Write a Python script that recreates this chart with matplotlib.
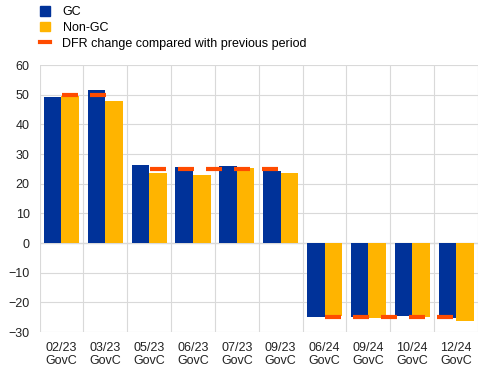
import matplotlib
matplotlib.use("Agg")
import matplotlib.pyplot as plt
from matplotlib.patches import Patch
from matplotlib.lines import Line2D
import numpy as np

plt.rcParams['font.family'] = ['Liberation Sans', 'DejaVu Sans']

meetings = ["02/23", "03/23", "05/23", "06/23", "07/23", "09/23",
            "06/24", "09/24", "10/24", "12/24"]
gc = [49.3, 51.6, 26.3, 25.6, 26.0, 24.4, -24.8, -25.1, -24.5, -25.2]
non_gc = [49.6, 48.0, 23.7, 22.9, 25.4, 23.7, -24.5, -25.3, -24.8, -26.2]

# DFR changes sit on their own (date) positions, expressed in category units
dfr_x = [0.2, 0.83, 2.2, 2.84, 3.48, 4.12, 4.76, 6.19, 6.83, 7.47, 8.11, 8.75]
dfr = [50, 50, 25, 25, 25, 25, 25, -25, -25, -25, -25, -25]

blue = "#003299"
yellow = "#FFB400"
red = "#FF4B00"

fig = plt.figure(figsize=(4.95, 3.73), dpi=100)
ax = fig.add_axes([0.0798, 0.1099, 0.8859, 0.7158])

x = np.arange(len(meetings))
w = 0.4
ax.bar(x - w / 2, gc, width=w, color=blue, zorder=2)
ax.bar(x + w / 2, non_gc, width=w, color=yellow, zorder=2)
ax.hlines(dfr, np.array(dfr_x) - 0.18, np.array(dfr_x) + 0.18,
          color=red, lw=3, zorder=3)

ax.set_xlim(-0.5, len(meetings) - 0.5)
ax.set_ylim(-30, 60)
ax.set_yticks(range(-30, 61, 10))
ax.set_xticks(x)
ax.set_xticklabels([m + "\nGovC" for m in meetings], fontsize=9, color="#222222",
                   linespacing=1.15)
ax.set_xticks(np.arange(-0.5, len(meetings)), minor=True)
ax.tick_params(axis="y", labelsize=9, length=0, pad=7, labelcolor="#222222")
ax.tick_params(axis="x", which="both", length=0, pad=7)

ax.grid(axis="y", color="#d9d9d9", lw=0.8, zorder=0)
ax.grid(axis="x", which="minor", color="#d9d9d9", lw=0.8, zorder=0)
ax.grid(axis="x", which="major", visible=False)
ax.axhline(0, color="#808080", lw=0.8, zorder=1)
for s in ax.spines.values():
    s.set_visible(False)

handles = [Patch(color=blue), Patch(color=yellow),
           Line2D([], [], color=red, lw=3)]
fig.legend(handles, ["GC", "Non-GC", "DFR change compared with previous period"],
           loc="upper left", bbox_to_anchor=(35 / 495, 1 - 1 / 373),
           frameon=False, fontsize=9, handlelength=0.8, handleheight=0.8,
           handletextpad=1.0, labelspacing=0.3, borderaxespad=0)

fig.savefig("out.png", dpi=100)
